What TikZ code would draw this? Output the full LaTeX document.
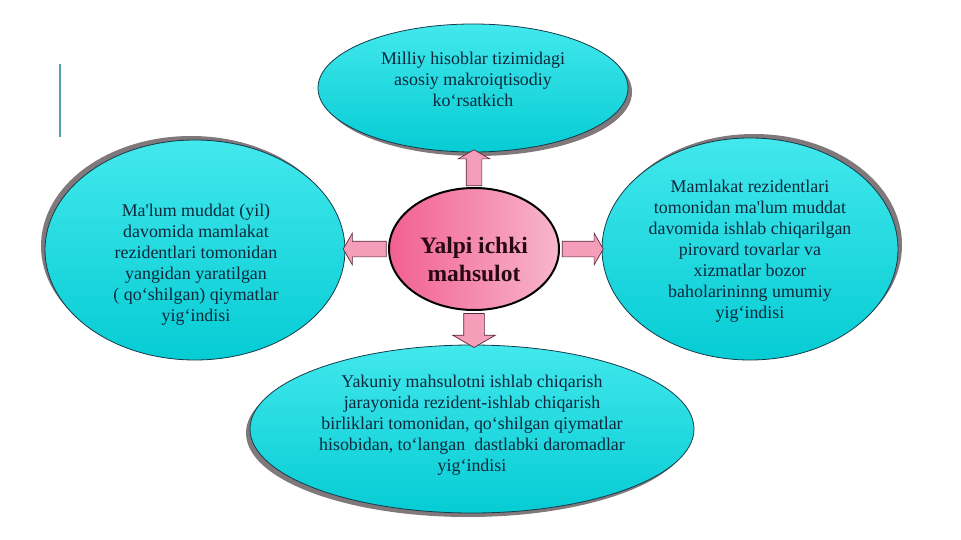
\documentclass[tikz,border=0pt]{standalone}
\usepackage{fontspec}
\setmainfont{Liberation Serif}
\usetikzlibrary{shapes,shadows,positioning,calc}
\definecolor{ecyanA}{RGB}{66,232,236}
\definecolor{ecyanB}{RGB}{6,204,212}
\definecolor{eborder}{RGB}{20,60,75}
\definecolor{etext}{RGB}{14,40,60}
\definecolor{shgray}{RGB}{128,120,122}
\definecolor{hubA}{RGB}{242,96,145}
\definecolor{hubB}{RGB}{248,182,204}
\definecolor{hubtext}{RGB}{40,8,20}
\definecolor{apink}{RGB}{244,158,186}
\definecolor{aborder}{RGB}{90,40,60}
\definecolor{slideline}{RGB}{80,160,176}
\tikzset{
  oval/.style={draw=eborder, ellipse, line width=.8pt, inner sep=0pt, outer sep=0pt, top color=ecyanA, bottom color=ecyanB},
  otext/.style={align=center, text=etext, font=\fontsize{17.9}{21}\selectfont},
  barrow/.style={single arrow, draw=aborder, fill=apink, line width=.7pt, inner sep=7.5pt, outer sep=0pt,
    single arrow head extend=8pt, single arrow tip angle=120, sloped, allow upside down, midway}
}
\begin{document}
\begin{tikzpicture}[x=1pt,y=-1pt]
        \useasboundingbox (0,0) rectangle (961,540);
        \draw[slideline, line width=2pt] (59.5,64) -- (59.5,137);
        % four ovals round the hub
        \draw node[oval, minimum width=310, minimum height=128, drop shadow={shadow xshift=4pt, shadow yshift=-4pt, fill=shgray, opacity=1}] (e1) at (473,88) {};
        \draw node[oval, minimum width=300, minimum height=220, drop shadow={shadow xshift=-4pt, shadow yshift=4pt, fill=shgray, opacity=1}] (e2) at (195,250) {};
        \draw node[oval, minimum width=296, minimum height=222, drop shadow={shadow xshift=4pt, shadow yshift=4pt, fill=shgray, opacity=1}] (e3) at (750,249) {};
        \draw node[oval, minimum width=444, minimum height=168, drop shadow={shadow xshift=-4pt, shadow yshift=-4pt, fill=shgray, opacity=1}] (e4) at (472,429) {};
        \draw node[otext] (t1) at (473,79) {Milliy hisoblar tizimidagi\\asosiy makroiqtisodiy\\ko‘rsatkich};
        \draw node[otext] (t2) at (196,265) {Ma\textquotesingle lum muddat (yil)\\davomida mamlakat\\rezidentlari tomonidan\\yangidan yaratilgan\\( qo‘shilgan) qiymatlar\\yig‘indisi};
        \draw node[otext] (t3) at (750,251) {Mamlakat rezidentlari\\tomonidan ma\textquotesingle lum muddat\\davomida ishlab chiqarilgan\\pirovard tovarlar va\\xizmatlar bozor\\baholarininng umumiy\\yig‘indisi};
        \draw node[otext] (t4) at (472,425) {Yakuniy mahsulotni ishlab chiqarish\\jarayonida rezident-ishlab chiqarish\\birliklari tomonidan, qo‘shilgan qiymatlar\\hisobidan, to‘langan~ dastlabki daromadlar\\yig‘indisi};
        % hub
        \draw node[draw=black, ellipse, line width=2pt, inner sep=0pt, outer sep=0pt, left color=hubA, right color=hubB, minimum width=170, minimum height=122] (c0) at (474,249) {};
        \draw node[align=center, text=hubtext, font=\fontsize{23.5}{28}\selectfont\bfseries] (t0) at (474,259) {Yalpi ichki\\mahsulot};
        % block arrows
        \path (c0.north) -- (c0.north |- e1.south) node[barrow, minimum height=36] (r1) {};
        \path (c0.west) -- (c0.west -| e2.east) node[barrow, minimum height=43] (r2) {};
        \path (c0.east) -- (c0.east -| e3.west) node[barrow, minimum height=41] (r3) {};
        \path (c0.south) -- (c0.south |- e4.north) node[barrow, minimum height=34, inner sep=10pt, single arrow head extend=11pt] (r4) {};
      \end{tikzpicture}
\end{document}
